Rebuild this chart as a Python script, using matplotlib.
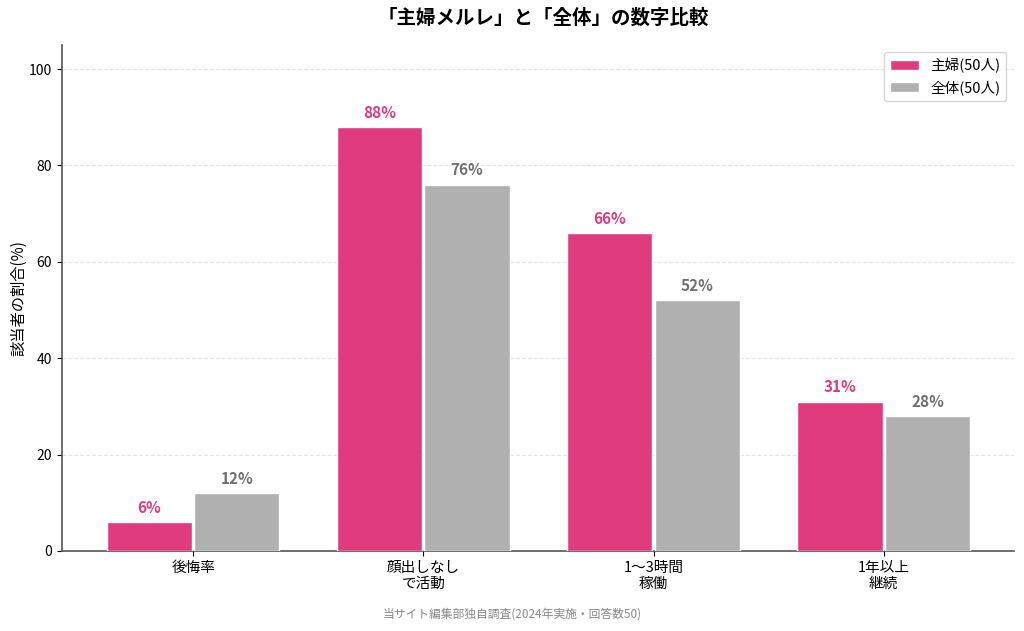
import matplotlib
matplotlib.use("Agg")
import matplotlib.pyplot as plt
import numpy as np

plt.rcParams['font.family'] = ['Noto Sans CJK JP', 'DejaVu Sans']

categories = ["後悔率", "顔出しなし\nで活動", "1〜3時間\n稼働", "1年以上\n継続"]
housewife = [6, 88, 66, 31]
overall = [12, 76, 52, 28]
series_names = ["主婦(50人)", "全体(50人)"]
yticks = [0, 20, 40, 60, 80, 100]

pink = "#E03C7D"
grey = "#B0B0B0"

fig = plt.figure(figsize=(10.24, 6.31), dpi=100)
ax = fig.add_axes([0.0605, 0.1268, 0.9295, 0.8019])

x = np.arange(len(categories))
w = 0.37
off = 0.19
b1 = ax.bar(x - off, housewife, w, color=pink, edgecolor="white", linewidth=1, label=series_names[0], zorder=3)
b2 = ax.bar(x + off, overall, w, color=grey, edgecolor="white", linewidth=1, label=series_names[1], zorder=3)

for rect, v in zip(b1, housewife):
    ax.text(rect.get_x() + rect.get_width() / 2, v + 1.3, f"{v}%", ha="center", va="bottom",
            color=pink, fontsize=11, fontweight="bold")
for rect, v in zip(b2, overall):
    ax.text(rect.get_x() + rect.get_width() / 2, v + 1.3, f"{v}%", ha="center", va="bottom",
            color="#707070", fontsize=11, fontweight="bold")

ax.set_xlim(-0.57, 3.565)
ax.set_ylim(0, 105)
ax.set_yticks(yticks)
ax.set_xticks(x)
ax.set_xticklabels(categories, fontsize=10.5)
ax.tick_params(axis="y", labelsize=10)
ax.set_ylabel("該当者の割合(%)", fontsize=11, labelpad=1)
ax.grid(axis="y", linestyle="--", color="#E5E5E5", linewidth=0.8, zorder=0)
for s in ["top", "right"]:
    ax.spines[s].set_visible(False)
for s in ["left", "bottom"]:
    ax.spines[s].set_color("#555555")
    ax.spines[s].set_linewidth(1.2)

ax.legend(loc="upper right", fontsize=10.5, frameon=True, edgecolor="#CCCCCC")
fig.text(0.531, 0.971, "「主婦メルレ」と「全体」の数字比較", ha="center", va="center",
         fontsize=14, fontweight="bold")
fig.text(0.5, 0.027, "当サイト編集部独自調査(2024年実施・回答数50)", ha="center", va="center",
         fontsize=8.5, color="#888888")

fig.savefig("out.png", dpi=100)
